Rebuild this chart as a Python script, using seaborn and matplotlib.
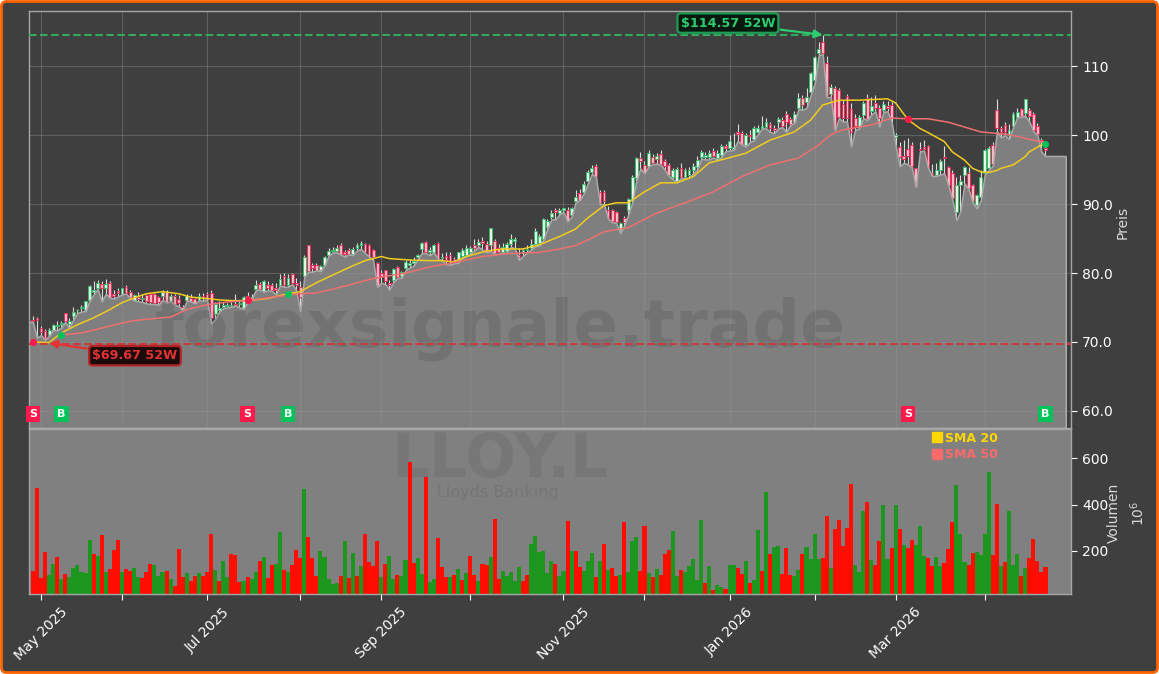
import numpy as np
import pandas as pd
import matplotlib
matplotlib.use("Agg")
import matplotlib.pyplot as plt
import seaborn as sns
from matplotlib.patches import FancyBboxPatch
from matplotlib.lines import Line2D
from matplotlib.transforms import IdentityTransform

opens = [
 73.2,73.5,72.0,71.6,71.0,71.8,72.3,72.6,74.2,72.6,
 73.8,74.6,74.9,74.6,76.1,77.2,77.8,78.4,77.9,78.5,
 76.9,77.4,77.0,78.0,77.3,76.1,76.5,76.2,76.8,76.9,
 76.9,76.5,76.7,77.3,76.0,76.7,76.3,75.1,76.1,76.4,
 76.2,76.1,76.6,76.9,77.1,74.0,74.6,75.0,75.2,75.4,
 75.5,75.5,74.9,76.6,76.3,77.7,78.4,77.4,78.2,78.2,
 77.8,78.3,79.6,78.2,79.8,78.6,78.0,79.6,84.1,81.1,
 81.2,80.4,81.2,82.6,83.2,83.2,84.1,83.1,83.4,82.7,
 83.6,84.0,84.2,84.0,83.3,81.5,80.0,80.4,78.6,79.0,
 80.9,79.6,80.7,81.2,81.4,82.3,83.5,84.5,83.1,83.1,
 84.4,82.2,82.5,82.6,82.0,81.9,82.5,82.6,83.0,84.0,
 84.0,84.7,84.2,84.1,84.7,83.7,83.1,83.2,84.2,84.6,
 82.6,83.0,83.3,83.6,84.2,84.4,84.9,86.7,88.1,89.2,
 88.7,89.2,89.2,88.5,90.4,91.6,91.7,93.3,94.6,95.6,
 91.8,91.7,89.2,89.1,88.8,86.3,88.0,89.2,90.6,93.8,
 96.7,95.7,95.6,96.9,96.6,97.3,96.2,95.7,93.9,93.3,
 95.2,94.0,94.2,94.9,95.4,96.9,96.8,96.9,97.7,96.7,
 97.2,98.5,98.1,98.0,100.5,100.3,98.6,100.0,99.4,100.5,
 101.0,101.2,101.6,101.0,102.0,102.2,103.1,102.3,101.9,103.9,
 105.4,104.9,106.3,108.0,112.0,113.5,110.5,106.0,106.9,106.6,
 104.6,105.7,103.8,102.5,101.4,103.0,105.4,103.6,104.7,103.9,
 103.7,104.2,104.4,99.8,98.3,97.0,98.0,98.6,95.2,98.0,
 98.3,98.4,94.5,94.2,95.0,96.8,95.4,94.5,88.9,92.8,
 94.2,94.5,92.8,89.9,91.0,94.5,95.2,98.6,103.7,101.0,
 101.5,100.0,101.3,102.7,103.8,103.2,103.7,103.1,101.4,99.3,
 98.2]
closes = [
 73.0,73.2,71.5,70.5,71.8,72.4,72.5,72.7,73.0,73.0,
 74.4,74.6,75.1,76.0,78.1,77.6,78.6,77.8,78.4,76.5,
 76.7,77.1,77.8,77.1,76.5,76.8,76.3,76.4,75.9,75.8,
 75.7,75.8,77.2,75.8,76.7,75.5,75.7,74.8,76.7,76.0,
 75.7,76.7,76.4,76.3,73.4,75.5,74.9,75.3,75.3,75.4,
 75.4,75.6,76.5,75.9,76.5,78.3,77.7,78.8,77.8,77.5,
 77.5,79.1,78.2,79.3,78.5,78.3,76.5,82.3,80.3,80.7,
 80.5,81.0,82.4,83.2,83.4,83.7,82.8,82.8,82.8,83.5,
 84.0,84.3,83.0,82.5,82.3,78.2,79.5,78.8,78.2,80.6,
 79.4,80.1,81.6,81.5,81.7,82.6,84.4,83.0,83.3,84.0,
 82.2,82.3,81.9,81.5,81.8,83.0,83.3,83.7,83.6,83.7,
 84.5,84.3,83.2,86.5,82.9,83.1,83.8,84.2,85.0,84.9,
 82.3,83.3,83.5,84.2,86.1,85.4,87.8,87.6,88.7,88.8,
 89.2,89.4,87.6,89.5,91.0,90.6,93.0,94.6,95.2,94.1,
 90.2,90.4,88.0,87.5,87.4,87.2,87.4,90.7,93.9,96.7,
 96.2,94.6,97.4,96.0,97.0,95.8,95.6,94.2,95.0,95.1,
 93.9,95.0,94.9,95.6,96.4,97.6,97.1,97.5,97.0,97.4,
 98.4,98.1,99.2,98.3,100.2,98.8,100.1,99.9,101.0,101.0,
 101.3,102.0,101.0,100.7,102.4,101.4,101.9,101.7,103.1,105.4,
 104.4,105.5,109.0,111.4,112.6,112.0,105.7,107.0,100.9,102.6,
 102.5,102.5,100.5,101.4,102.7,104.7,102.3,104.2,103.9,102.5,
 104.5,104.0,102.5,100.0,96.9,96.5,97.0,95.5,92.7,97.9,
 98.0,95.4,94.2,95.0,96.3,96.7,92.8,90.9,92.8,93.4,
 95.4,92.3,90.4,91.3,94.0,97.9,98.1,95.8,101.0,100.5,
 100.5,100.8,103.1,103.4,102.8,105.2,102.8,100.7,100.2,99.0,
 97.8]
highs = [
 73.7,73.6,72.3,71.9,72.0,72.6,73.0,73.1,74.2,73.4,
 75.1,74.8,75.3,76.0,78.2,78.8,79.0,78.9,79.1,78.8,
 77.6,77.8,77.9,78.2,77.5,77.0,77.2,77.0,77.0,77.1,
 77.1,76.7,77.5,77.6,77.0,76.9,76.8,75.3,77.0,76.9,
 76.4,77.1,77.1,77.2,77.5,75.8,75.9,75.8,75.7,75.8,
 77.0,75.9,76.7,77.2,77.0,79.0,78.7,79.0,78.8,78.5,
 78.5,79.8,80.0,79.9,80.0,79.3,78.9,82.6,84.1,81.5,
 81.4,81.2,82.5,83.6,83.8,84.0,84.3,83.4,83.6,83.8,
 84.4,84.7,84.4,84.2,83.5,81.6,80.4,80.5,79.0,80.7,
 81.0,80.3,81.9,82.0,82.3,82.8,84.5,84.7,83.8,84.2,
 84.5,82.9,83.0,83.0,82.4,83.1,83.6,84.0,83.9,85.0,
 85.0,85.3,84.7,86.6,85.0,84.2,84.4,84.5,85.6,85.2,
 83.7,83.6,84.0,84.9,86.5,85.6,88.0,87.9,89.1,89.4,
 89.5,89.5,89.6,89.6,92.0,92.2,93.3,95.0,95.7,95.9,
 92.0,92.0,89.7,89.3,89.0,87.4,88.3,90.9,94.3,96.9,
 97.6,96.2,97.8,97.3,97.5,97.8,96.6,96.0,95.2,95.4,
 96.0,95.3,95.4,96.0,97.0,97.8,97.6,97.9,98.1,97.8,
 98.8,98.8,100.0,100.3,101.7,100.6,100.3,100.7,101.3,101.5,
 102.8,102.5,102.0,101.5,102.6,102.7,103.5,102.7,103.6,106.2,
 105.8,106.9,109.2,111.5,113.5,114.57,111.5,107.4,107.2,106.9,
 105.1,106.0,104.7,103.1,103.0,105.0,106.0,105.5,105.8,104.4,
 105.0,105.0,104.8,100.3,99.0,99.3,99.6,99.0,95.3,99.0,
 99.3,98.6,95.9,96.0,96.6,98.5,95.6,95.0,94.0,94.3,
 95.5,95.4,93.0,91.5,95.0,98.0,98.4,99.0,105.3,101.4,
 101.9,101.7,103.4,103.9,104.0,105.3,104.0,103.4,101.8,99.6,
 99.0]
lows = [
 72.9,70.6,71.0,70.3,70.9,71.7,71.7,72.1,72.9,72.0,
 73.3,74.2,74.4,74.5,76.0,76.9,77.7,75.9,77.0,76.4,
 76.3,76.6,76.9,77.0,76.4,76.0,75.9,75.8,75.6,75.5,
 75.5,75.4,76.1,75.7,75.9,75.4,75.2,74.6,76.0,75.9,
 75.6,76.0,76.0,76.2,72.7,73.3,74.4,74.9,75.0,75.1,
 75.3,75.0,74.8,75.8,76.2,77.5,77.6,77.3,77.5,77.4,
 76.9,78.2,78.0,78.0,78.4,77.5,74.5,79.5,80.2,80.2,
 80.4,80.3,81.1,82.5,83.0,83.0,82.7,82.4,82.7,82.6,
 83.3,83.5,82.9,82.4,81.9,78.0,78.6,78.4,77.6,78.7,
 79.3,79.3,80.4,80.8,81.1,82.0,82.9,82.9,82.6,83.0,
 82.1,81.8,81.3,81.2,81.4,81.5,82.2,82.5,82.8,83.3,
 83.8,83.4,83.0,83.2,82.8,82.8,82.9,83.0,83.8,83.6,
 81.9,82.5,83.0,83.4,83.9,84.0,84.8,86.4,87.8,87.8,
 88.5,88.9,87.5,88.2,90.3,90.6,91.6,93.0,94.4,94.0,
 90.0,90.0,87.9,87.4,87.3,85.8,86.9,88.5,90.3,93.5,
 95.2,94.5,95.5,95.8,95.9,95.7,95.0,94.1,93.6,93.2,
 93.8,93.8,93.8,94.5,95.0,96.6,96.5,96.5,96.8,96.4,
 96.9,97.7,97.8,97.9,99.2,98.7,98.4,99.0,99.3,100.2,
 101.0,101.0,100.5,100.3,101.0,101.2,100.5,101.5,101.8,103.8,
 103.7,104.0,105.8,107.5,111.6,111.8,105.5,105.6,100.7,102.5,
 102.0,102.0,98.4,100.8,101.0,102.5,102.2,103.0,103.5,101.3,
 103.4,103.5,102.0,98.5,95.5,96.0,95.8,95.3,92.5,97.6,
 97.8,95.3,94.1,94.1,94.3,94.5,92.8,90.7,87.7,89.0,
 93.0,92.2,90.3,89.4,90.5,94.3,95.0,95.6,100.6,99.7,
 100.0,99.5,101.2,102.6,102.7,102.8,102.0,100.6,100.0,97.6,
 97.0]

volumes_mio = [
 113,472,85,195,96,144,174,79,100,87,
 126,139,109,105,247,187,178,269,108,122,
 204,247,109,122,113,126,87,83,109,144,
 139,92,109,113,79,49,209,87,105,70,
 92,105,92,109,273,118,70,157,87,187,
 183,66,70,87,79,109,157,174,83,139,
 144,282,118,109,139,204,171,468,260,170,
 92,200,174,79,57,62,92,243,83,191,
 92,135,273,152,135,243,87,144,178,79,
 96,92,161,585,148,170,100,520,66,79,
 256,131,87,87,96,122,75,105,178,96,
 70,144,139,174,338,79,113,92,109,70,
 131,70,96,230,265,196,200,105,157,144,
 92,113,330,200,200,131,113,157,191,87,
 157,230,118,126,92,96,325,109,243,260,
 113,308,105,87,122,96,187,204,286,92,
 118,109,135,165,75,334,62,135,31,53,
 44,36,139,139,126,100,157,62,75,291,
 113,455,187,217,221,100,213,96,92,118,
 187,217,165,273,165,170,351,126,295,334,
 221,299,490,139,109,373,412,161,139,243,
 399,165,213,399,295,226,213,247,226,308,
 178,170,135,174,135,148,209,325,485,273,
 152,139,191,196,183,273,541,183,403,135,
 152,373,139,187,92,126,170,252,157,109,
 131]
volume_side = (
 "RRRRGGRGRG" "GGGGGRGRGR" "RRGRRGGRRR" "GGGRGRRRGR"
 "RGRRRGRGGR" "RRGRGGRGRR" "GGRGRRRGRR" "RGGGGGRGRG"
 "RGRRRRGRGG" "RGGRRGGRGG" "RRRGRGRGRR" "GRRGRRGGGG"
 "GRRGGGGGGR" "GGRGRRGGGR" "GRGRRGRGGG" "RRGRGRRRGG"
 "RGGGGGRGRG" "GRGGRRGRGG" "RGRGGRRRGG" "RGGGGRRGRR"
 "RRRGGGRGRR" "GGRGRGRRGG" "GRRGGRRRGG" "GRRGGGGRRG"
 "RGGGRGRRRR" "R")

sma20_idx = [0,4,7,11,15,19,22,25,28,32,36,39,43,46,49,53,58,63,66,70,74,78,82,86,88,93,98,101,104,
             107,112,116,121,125,130,134,137,141,144,147,151,155,159,163,167,171,176,182,188,192,
             195,199,204,211,213,216,219,221,225,227,230,232,234,236,238,239,242,245,246,249,250]
sma20_val = [70.0,69.9,71.3,72.5,73.5,74.7,75.7,76.4,77.0,77.3,77.0,76.5,76.3,76.1,76.0,76.0,76.3,77.0,77.3,
             78.6,79.7,80.8,81.8,82.4,82.1,81.9,81.8,81.8,81.6,82.4,83.2,83.5,83.5,84.1,85.3,86.4,88.0,
             89.8,90.2,90.2,91.8,93.1,93.1,94.0,96.0,96.6,97.4,99.3,100.5,102.2,104.4,105.1,105.1,105.3,
             104.7,102.3,101.0,100.4,99.1,97.6,96.4,95.2,94.7,94.6,94.9,95.2,95.7,96.9,97.6,98.6,98.9]
sma50_idx = [7,12,17,21,25,30,34,38,43,48,53,58,63,66,70,77,84,92,98,104,111,117,125,130,134,137,141,147,
             154,161,168,175,182,189,194,197,200,207,212,216,221,226,234,241,250]
sma50_val = [71.0,71.3,72.0,72.6,73.1,73.4,73.6,74.7,75.4,75.8,76.0,76.4,76.8,77.0,77.1,78.1,79.2,80.0,80.9,
             81.5,82.4,82.8,83.0,83.5,84.0,84.8,86.0,86.6,88.7,90.2,91.8,94.0,95.7,96.7,98.6,100.1,100.8,
             101.5,102.5,102.4,102.4,101.9,100.5,100.1,98.9]

signal_idx = [0,7,53,63,216,250]
signal_price = [70.0,71.0,76.1,77.0,102.3,98.8]
signal_kind = ["S","B","S","B","S","B"]

month_idx = [2,22,43,66,86,108,131,151,172,193,213,235]
month_labels = ["May 2025","","Jul 2025","","Sep 2025","","Nov 2025","","Jan 2026","","Mar 2026",""]
price_ticks = [60,70,80,90,100,110]
price_labels = ["60.0","70.0","80.0","90.0","100","110"]
volume_ticks = [200,400,600]
high_52w = 114.57
low_52w = 69.67

BG = "#3f3f3f"
PANEL = "#808080"
W, H = 1159, 674

sns.set_theme(style="dark")
plt.rcParams["font.family"] = ["DejaVu Sans"]

fig = plt.figure(figsize=(W / 100, H / 100), dpi=100, facecolor="white")
fig.add_artist(FancyBboxPatch((1.5, 1.5), W - 3, H - 3, boxstyle="round,pad=0,rounding_size=5",
                              transform=IdentityTransform(), facecolor=BG, edgecolor="#ff6200",
                              linewidth=2.0, zorder=-10))

L, R = 29 / W, 1071 / W
ax = fig.add_axes([L, 1 - 428 / H, R - L, (428 - 11) / H], facecolor=BG)
axv = fig.add_axes([L, 1 - 594 / H, R - L, (594 - 429) / H], facecolor=PANEL, sharex=ax)

n = len(closes)
idx = np.arange(n)
o, c, h, l = map(np.array, (opens, closes, highs, lows))
up = c >= o
YMIN, YMAX = 57.5, 118.05

# grid
ax.set_axisbelow(True)
ax.grid(True, color="#8c8c8c", alpha=0.42, linewidth=0.8)

# candles
ax.vlines(idx, l, h, color="#dcdcdc", linewidth=0.8, zorder=2)
ax.bar(idx[up], (c - o)[up], bottom=o[up], width=0.7, facecolor="#e2f7e6", edgecolor="#3cb86c",
       linewidth=0.7, zorder=2.2)
ax.bar(idx[~up], (o - c)[~up], bottom=c[~up], width=0.7, facecolor="#ffb8c6", edgecolor="#e62e58",
       linewidth=0.7, zorder=2.2)

# area under the lows, with a flat tail
area_x = np.r_[-1, idx, np.arange(n, n + 5)]
area_y = np.r_[lows[0], lows, np.repeat(lows[-1], 5)]
ax.fill_between(area_x, area_y, YMIN, facecolor=(0.585, 0.585, 0.585, 0.75),
                edgecolor="#aaaaaa", linewidth=1.1, zorder=3)

# moving averages
sma = pd.DataFrame({"i": sma20_idx, "v": sma20_val})
sns.lineplot(data=sma, x="i", y="v", ax=ax, color="#f0cc20", linewidth=1.1, zorder=4, errorbar=None)
sma = pd.DataFrame({"i": sma50_idx, "v": sma50_val})
sns.lineplot(data=sma, x="i", y="v", ax=ax, color="#ee7070", linewidth=1.1, zorder=4, errorbar=None)

# 52 week levels
ax.axhline(high_52w, color="#35a860", linestyle=(0, (3.6, 1.7)), linewidth=1.5, zorder=4)
ax.axhline(low_52w, color="#c93a3f", linestyle=(0, (3.6, 1.7)), linewidth=1.5, zorder=4)

# signals
for i, p, k in zip(signal_idx, signal_price, signal_kind):
    col = "#00c45a" if k == "B" else "#ff1a4b"
    ax.scatter([i], [p], s=26, color=col, zorder=5, linewidths=0)
    ax.text(i, 59.55, k, color="white", fontsize=8, fontweight="bold", ha="center", va="center", zorder=6,
            bbox=dict(boxstyle="square,pad=0.28", facecolor=col, edgecolor="none"))

ax.annotate(f"${high_52w:.2f} 52W", xy=(195, high_52w), xytext=(171.6, 116.3), color="#2ecc71",
            fontsize=9.2, fontweight="bold", ha="center", va="center", zorder=7,
            bbox=dict(boxstyle="round,pad=0.25", facecolor="#06190e", edgecolor="#1e9c55", linewidth=1.6),
            arrowprops=dict(arrowstyle="-|>", mutation_scale=12, color="#2ecc71", linewidth=1.6, shrinkA=1, shrinkB=0))
ax.annotate(f"${low_52w:.2f} 52W", xy=(4, 69.85), xytext=(25.2, 68.0), color="#e53232",
            fontsize=9.2, fontweight="bold", ha="center", va="center", zorder=7,
            bbox=dict(boxstyle="round,pad=0.25", facecolor="#1c0b0b", edgecolor="#b32424", linewidth=1.6),
            arrowprops=dict(arrowstyle="-|>", mutation_scale=12, color="#e53232", linewidth=1.6, shrinkA=1, shrinkB=0))

# volume
vol = np.array(volumes_mio)
side = np.array(list(volume_side))
axv.bar(idx[side == "G"], vol[side == "G"], width=1.0, color="#1c961c", linewidth=0, zorder=2)
axv.bar(idx[side == "R"], vol[side == "R"], width=1.0, color="#ff0d00", linewidth=0, zorder=2.1)

# watermarks
ax.text(500 / W, 1 - 329 / H, "forexsignale.trade", transform=fig.transFigure, color="#111111", alpha=0.11,
        fontsize=47.7, fontweight="bold", ha="center", va="center", zorder=3.5, clip_on=False)
axv.text(500 / W, 1 - 461 / H, "LLOY.L", transform=fig.transFigure, color="#111111", alpha=0.08,
         fontsize=43, fontweight="bold", ha="center", va="center", zorder=1, clip_on=False)
axv.text(498 / W, 1 - 492 / H, "Lloyds Banking", transform=fig.transFigure, color="#111111", alpha=0.09,
         fontsize=11.5, ha="center", va="center", zorder=1, clip_on=False)

# legend
handles = [Line2D([], [], linestyle="none", marker="s", markersize=7, color="#ffd700", label="SMA 20"),
           Line2D([], [], linestyle="none", marker="s", markersize=7, color="#ff6b6b", label="SMA 50")]
axv.legend(handles=handles, loc="upper left", bbox_to_anchor=((919 - 29) / (1071 - 29), 1.045), frameon=False,
           labelcolor=["#ffd700", "#ff6b6b"], prop=dict(size=9, weight="bold"), handletextpad=0.05,
           labelspacing=0.3, borderpad=0.3, handlelength=1.2)

# axes
ax.set_xlim(-0.96, 256.3)
ax.set_ylim(YMIN, YMAX)
axv.set_ylim(14, 727)
ax.set_xticks(month_idx)
ax.tick_params(axis="x", bottom=False, labelbottom=False)
ax.yaxis.tick_right()
ax.set_yticks(price_ticks)
ax.set_yticklabels(price_labels)
ax.tick_params(axis="y", colors="white", labelsize=10, length=4, width=0.8, pad=4, right=True)
ax.set_xlabel("")
ax.set_ylabel("")
axv.yaxis.tick_right()
axv.set_yticks(volume_ticks)
axv.set_yticklabels([str(v) for v in volume_ticks])
axv.set_xticks(month_idx)
axv.set_xticklabels(month_labels, rotation=45, ha="center")
axv.tick_params(axis="both", colors="white", labelsize=10, length=4, width=0.8, pad=4, bottom=True, right=True)
axv.set_xlabel("")
axv.set_ylabel("")
for a in (ax, axv):
    for s in a.spines.values():
        s.set_color("#a6a6a6")
        s.set_linewidth(1.0)
        s.set_visible(True)

fig.text(1123 / W, 1 - 222 / H, "Preis", color="#d8d8d8", rotation=90, fontsize=10, ha="center", va="center")
fig.text(1127 / W, 1 - 513 / H, "Volumen\n$10^6$", color="#d8d8d8", rotation=90, fontsize=10, ha="center",
         va="center", multialignment="center", linespacing=1.5)

fig.savefig("out.png", dpi=100, facecolor=fig.get_facecolor())
